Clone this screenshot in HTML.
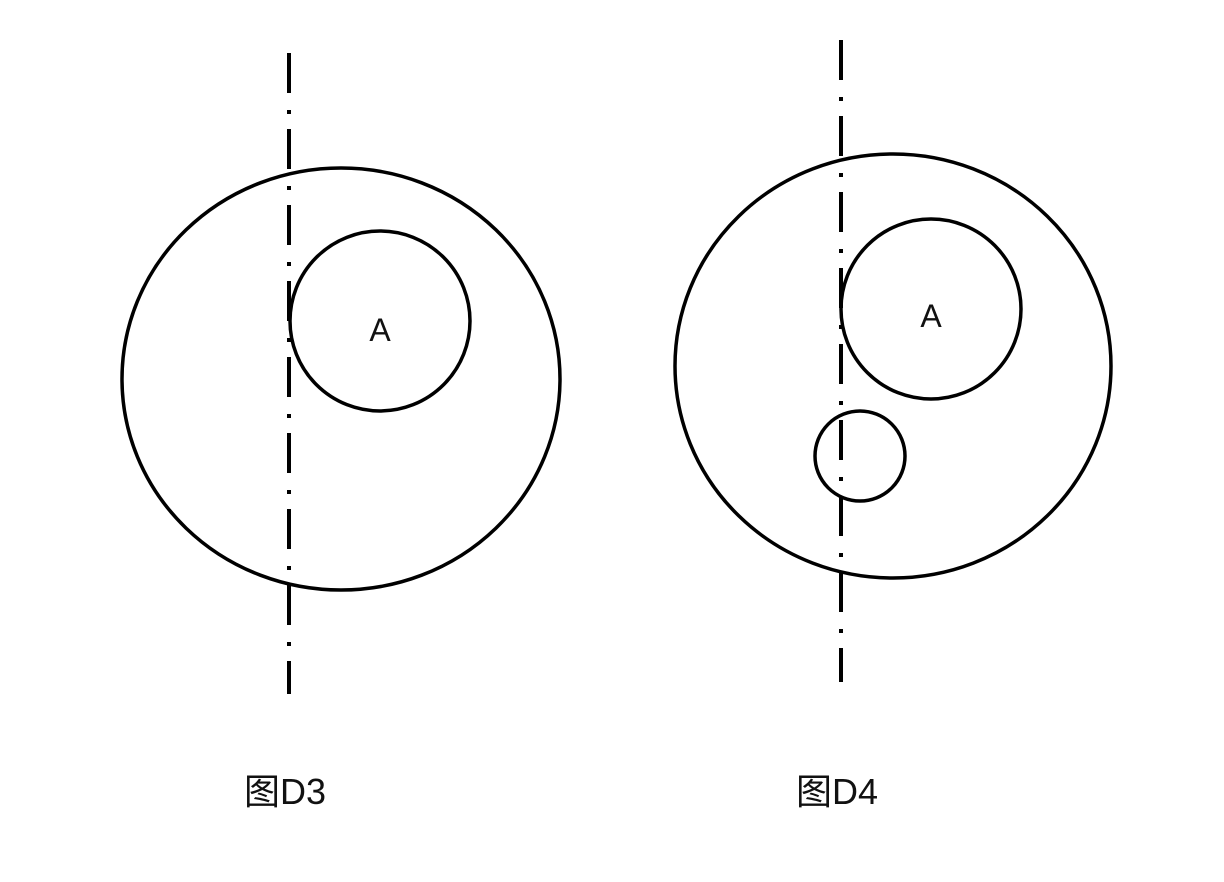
<!DOCTYPE html>
<html><head><meta charset="utf-8"><style>
html,body{margin:0;padding:0;background:#fff;}
svg{display:block;}
text{font-family:"Liberation Sans","Noto Sans CJK SC",sans-serif;fill:#111;}
</style></head><body>
<svg width="1224" height="882" viewBox="0 0 1224 882">
<g fill="none" stroke="#000" stroke-width="3.5">
<line x1="289" y1="53" x2="289" y2="694" stroke-width="4" stroke-dasharray="40 17 4 15"/>
<ellipse cx="341" cy="379" rx="219" ry="211"/>
<circle cx="380" cy="321" r="90"/>
<line x1="841" y1="40" x2="841" y2="682" stroke-width="4" stroke-dasharray="40 17 4 15"/>
<ellipse cx="893" cy="366" rx="218" ry="212"/>
<circle cx="931" cy="309" r="90"/>
<circle cx="860" cy="456" r="45"/>
</g>
<text x="380" y="341" font-size="32" text-anchor="middle">A</text>
<text x="931" y="327" font-size="32" text-anchor="middle">A</text>
<text x="244" y="804" font-size="36">图D3</text>
<text x="796" y="804" font-size="36">图D4</text>
</svg>
</body></html>
